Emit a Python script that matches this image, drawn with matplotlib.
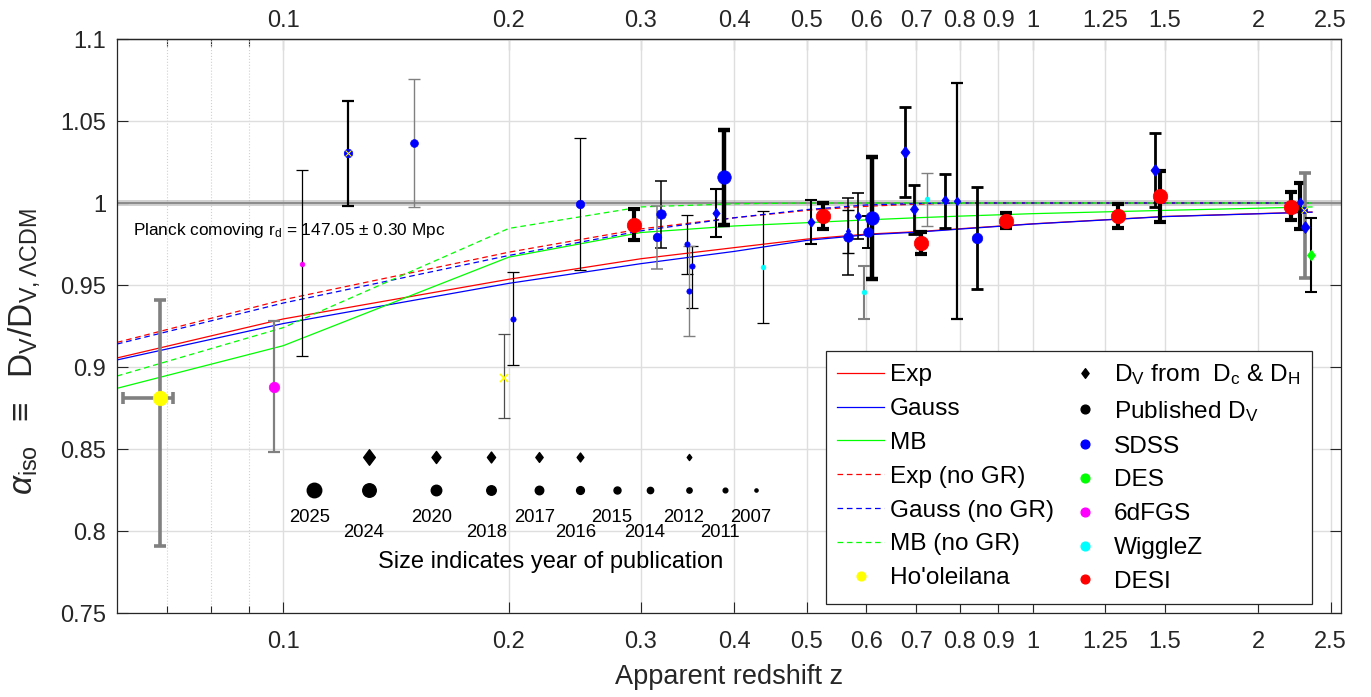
import numpy as np
import matplotlib
matplotlib.use('Agg')
import matplotlib.pyplot as plt
from matplotlib.lines import Line2D
from matplotlib.path import Path

plt.rcParams['font.family'] = ['Liberation Sans', 'DejaVu Sans']
plt.rcParams['mathtext.fontset'] = 'custom'
plt.rcParams['mathtext.rm'] = 'Liberation Sans'
plt.rcParams['mathtext.it'] = 'Liberation Sans:italic'
plt.rcParams['mathtext.bf'] = 'Liberation Sans:bold'
plt.rcParams['mathtext.fallback'] = 'stixsans'

# ---------------- model curves ----------------
model_z = [0.06, 0.1, 0.2, 0.3, 0.4, 0.5, 0.6, 0.7, 0.8, 1.0, 1.5, 2.36]
exp_gr = [0.9055, 0.9293, 0.9535, 0.966, 0.9728, 0.978, 0.981, 0.9825, 0.9843, 0.9873, 0.9918, 0.9945]
gauss_gr = [0.9043, 0.9265, 0.951, 0.963, 0.9705, 0.9772, 0.9806, 0.9822, 0.9841, 0.9872, 0.9917, 0.9944]
mb_gr = [0.887, 0.913, 0.967, 0.982, 0.986, 0.988, 0.9897, 0.991, 0.992, 0.9935, 0.9955, 0.9976]
exp_nogr = [0.915, 0.941, 0.970, 0.9842, 0.991, 0.9955, 0.998, 0.9993, 1.0, 1.0, 1.0, 1.0]
gauss_nogr = [0.914, 0.939, 0.968, 0.983, 0.991, 0.996, 0.9988, 0.9997, 1.0, 1.0, 1.0, 1.0]
mb_nogr = [0.8945, 0.924, 0.9845, 0.9976, 0.9995, 1.0, 1.0, 1.0, 1.0, 1.0, 1.0, 1.0]

# ---------------- measurements ----------------
pt_z = [0.0684, 0.0973, 0.106, 0.1221, 0.1495, 0.197, 0.2027, 0.249, 0.294, 0.319,
        0.3155, 0.346, 0.351, 0.348, 0.378, 0.387, 0.4365, 0.506, 0.526, 0.567,
        0.567, 0.584, 0.6026, 0.61, 0.595, 0.675, 0.694, 0.7096, 0.722, 0.763,
        0.792, 0.842, 0.923, 1.302, 1.459, 1.481, 2.215, 2.277, 2.30, 2.312, 2.355]
pt_alpha = [0.881, 0.888, 0.963, 1.0305, 1.0366, 0.893, 0.929, 0.9994, 0.9866, 0.9933,
            0.9793, 0.975, 0.9616, 0.9463, 0.9939, 1.0159, 0.961, 0.9884, 0.992, 0.983,
            0.979, 0.992, 0.9823, 0.9909, 0.9457, 1.0311, 0.9963, 0.9756, 1.0024, 1.0018,
            1.0012, 0.9787, 0.989, 0.992, 1.0201, 1.0043, 0.9976, 1.0006, 0.996, 0.9854, 0.9683]
pt_top = [0.941, 0.928, 1.020, 1.062, 1.0756, 0.920, 0.958, 1.0396, 0.9963, 1.0134,
          0.998, 0.9927, 0.974, 0.9738, 1.0085, 1.0445, 0.995, 1.0018, 1.0, 0.996,
          1.003, 1.006, 0.992, 1.028, 0.9616, 1.0585, 1.011, 0.9823, 1.0183, 1.0177,
          1.0732, 1.0098, 0.9939, 0.9994, 1.0427, 1.0195, 1.0067, 1.0122, 0.996, 1.0183, 0.9909]
pt_bottom = [0.791, 0.848, 0.907, 0.998, 0.9976, 0.869, 0.901, 0.959, 0.9774, 0.9726,
             0.9598, 0.957, 0.936, 0.919, 0.9793, 0.9866, 0.9268, 0.975, 0.984, 0.9695,
             0.956, 0.978, 0.9725, 0.9537, 0.9293, 1.0037, 0.981, 0.9689, 0.986, 0.9848,
             0.9293, 0.9476, 0.9848, 0.9848, 0.9976, 0.9884, 0.9896, 0.9841, 0.996, 0.9543, 0.9457]
pt_survey = ["Ho'oleilana", '6dFGS', '6dFGS', 'SDSS', 'SDSS', 'other', 'SDSS', 'SDSS', 'DESI', 'SDSS',
             'SDSS', 'SDSS', 'SDSS', 'SDSS', 'SDSS', 'SDSS', 'WiggleZ', 'SDSS', 'DESI', 'SDSS',
             'SDSS', 'SDSS', 'SDSS', 'SDSS', 'WiggleZ', 'SDSS', 'SDSS', 'DESI', 'WiggleZ', 'SDSS',
             'SDSS', 'SDSS', 'DESI', 'DESI', 'SDSS', 'DESI', 'DESI', 'SDSS', 'SDSS', 'SDSS', 'DES']
pt_kind = ['DV', 'DV', 'DV', 'DV', 'DV', 'x', 'DV', 'DV', 'DV', 'DV',
           'DV', 'DV', 'DV', 'DV', 'DcDH', 'DV', 'DV', 'DcDH', 'DV', 'DcDH',
           'DV', 'DcDH', 'DV', 'DV', 'DV', 'DcDH', 'DcDH', 'DV', 'DV', 'DcDH',
           'DcDH', 'DV', 'DV', 'DV', 'DcDH', 'DV', 'DV', 'DcDH', 'DV', 'DcDH', 'DcDH']
pt_year = [2025, 2020, 2011, 2017, 2016, 2017, 2012, 2017, 2025, 2018,
           2017, 2012, 2012, 2012, 2017, 2024, 2011, 2017, 2025, 2012,
           2018, 2016, 2018, 2024, 2011, 2020, 2018, 2025, 2011, 2017,
           2016, 2020, 2025, 2025, 2020, 2025, 2025, 2016, 2014, 2020, 2018]
pt_cross = [3, 38]  # points overlaid with a yellow cross
# Ho'oleilana horizontal error
hool_zlo, hool_zhi = 0.0612, 0.0713

# ---------------- styles (errorbar colour / width per point) ----------------
err_col = ['g', 'g', 'k', 'k', 'g', 'd', 'k', 'k', 'k', 'k',
           'g', 'k', 'k', 'g', 'k', 'k', 'k', 'k', 'k', 'k',
           'k', 'k', 'k', 'k', 'g', 'k', 'k', 'k', 'g', 'k',
           'k', 'k', 'k', 'k', 'k', 'k', 'k', 'k', 'k', 'g', 'k']
err_lw = [2.6, 1.6, 0.9, 1.6, 1.0, 0.9, 0.9, 0.9, 3.0, 1.1,
          1.1, 0.9, 0.9, 1.0, 1.5, 3.2, 0.9, 1.5, 3.0, 1.0,
          1.1, 1.2, 1.4, 3.2, 1.5, 2.0, 2.0, 3.0, 1.0, 2.0,
          1.6, 2.0, 3.0, 3.0, 2.0, 3.0, 3.0, 3.0, 0.0, 2.6, 1.5]

survey_color = {"Ho'oleilana": (1, 1, 0), 'SDSS': (0, 0, 1), 'DES': (0, 1, 0),
                '6dFGS': (1, 0, 1), 'WiggleZ': (0, 1, 1), 'DESI': (1, 0, 0), 'other': (1, 1, 0)}
errc_map = {'k': 'black', 'g': (0.5, 0.5, 0.5), 'd': (0.3, 0.3, 0.3)}
year_px = {2025: 14.5, 2024: 13.5, 2020: 10.5, 2018: 9.5, 2017: 8.5, 2016: 7.8,
           2015: 7.0, 2014: 6.3, 2012: 5.3, 2011: 4.7, 2007: 3.2}

def msize(year, kind):
    s = year_px[year] / 1.389
    if kind == 'DcDH':
        s *= 1.15
    return s

diamond = Path([(0, 1), (0.75, 0), (0, -1), (-0.75, 0), (0, 1)],
               [Path.MOVETO, Path.LINETO, Path.LINETO, Path.LINETO, Path.CLOSEPOLY])

# ---------------- year-size legend ----------------
ylg_years = [2025, 2024, 2020, 2018, 2017, 2016, 2015, 2014, 2012, 2011, 2007]
ylg_z = [0.110, 0.130, 0.160, 0.1894, 0.2195, 0.249, 0.2788, 0.3086, 0.3478, 0.3885, 0.4272]
ylg_diamond_years = [2024, 2020, 2018, 2017, 2016, 2012]

W, H = 1371, 697
fig = plt.figure(figsize=(W / 100, H / 100), dpi=100)
L, R, T, B = 117, 1341, 39, 613
ax = fig.add_axes([L / W, 1 - B / H, (R - L) / W, (B - T) / H])
ax.set_xscale('log')
ax.set_xlim(0.06, 2.58)
ax.set_ylim(0.75, 1.1)

dark = (0.15, 0.15, 0.15)
ax.set_axisbelow(True)
majx = [0.1, 0.2, 0.3, 0.4, 0.5, 0.6, 0.7, 0.8, 0.9, 1, 1.25, 1.5, 2, 2.5]
majx_lab = ['0.1', '0.2', '0.3', '0.4', '0.5', '0.6', '0.7', '0.8', '0.9', '1', '1.25', '1.5', '2', '2.5']
minx = [0.07, 0.08, 0.09]
ax.set_xticks(majx)
ax.set_xticklabels(majx_lab)
ax.set_xticks(minx, minor=True)
ax.set_xticklabels([], minor=True)
yt = [0.75, 0.8, 0.85, 0.9, 0.95, 1.0, 1.05, 1.1]
ax.set_yticks(yt)
ax.set_yticklabels(['0.75', '0.8', '0.85', '0.9', '0.95', '1', '1.05', '1.1'])
ax.grid(True, which='major', color=(0.87, 0.87, 0.87), lw=1.0)
ax.grid(True, which='minor', axis='x', color=(0.82, 0.82, 0.82), lw=0.8, ls=':')
ax.tick_params(which='both', direction='in', top=False, right=True,
               labelsize=17, width=0.8, colors=dark)
ax.tick_params(which='major', length=8)
ax.tick_params(which='minor', length=5)
ax.tick_params(axis='x', pad=13)
ax.tick_params(axis='y', pad=8)
for sp in ax.spines.values():
    sp.set_color(dark)
    sp.set_linewidth(0.9)

# top axis
sec = ax.secondary_xaxis('top')
sec.set_xticks(majx)
sec.set_xticklabels(majx_lab)
sec.set_xticks(minx, minor=True)
sec.set_xticklabels([], minor=True)
sec.tick_params(which='both', direction='in', labelsize=17, width=0.8, colors=dark, pad=5)
sec.tick_params(which='major', length=8)
sec.tick_params(which='minor', length=5)
sec.spines['top'].set_color(dark)
sec.spines['top'].set_linewidth(0.9)

# Planck reference
ax.axhspan(0.998, 1.002, color=(0.6, 0.6, 0.6), alpha=0.45, lw=0, zorder=1.5)
ax.axhline(1.0, color=(0.55, 0.55, 0.55), lw=1.4, zorder=1.6)

# models
dash = (0, (4.5, 3))
ax.plot(model_z, exp_gr, color=(1, 0, 0), lw=0.9, zorder=2)
ax.plot(model_z, gauss_gr, color=(0, 0, 1), lw=0.9, zorder=2)
ax.plot(model_z, mb_gr, color=(0, 1, 0), lw=0.9, zorder=2)
ax.plot(model_z, exp_nogr, color=(1, 0, 0), lw=0.9, ls=dash, zorder=2)
ax.plot(model_z, gauss_nogr, color=(0, 0, 1), lw=0.9, ls=dash, zorder=2)
ax.plot(model_z, mb_nogr, color=(0, 1, 0), lw=0.9, ls=dash, zorder=2)

# error bars + markers
for i in range(len(pt_z)):
    z, a = pt_z[i], pt_alpha[i]
    lo, hi = a - pt_bottom[i], pt_top[i] - a
    if err_lw[i] > 0:
        xerr = None
        if i == 0:
            xerr = [[z - hool_zlo], [hool_zhi - z]]
        ax.errorbar([z], [a], yerr=[[lo], [hi]], xerr=xerr, fmt='none',
                    ecolor=errc_map[err_col[i]], elinewidth=err_lw[i],
                    capsize=4.0, capthick=err_lw[i], zorder=3)
    kind = pt_kind[i]
    if kind == 'x':
        ax.plot([z], [a], marker='x', ls='none', color=(1, 1, 0), ms=6, mew=1.2, zorder=5)
        continue
    mk = diamond if kind == 'DcDH' else 'o'
    c = survey_color[pt_survey[i]]
    ax.plot([z], [a], marker=mk, ls='none', mfc=c, mec=c, mew=0.5,
            ms=msize(pt_year[i], kind), zorder=4)
for i in pt_cross:
    ax.plot([pt_z[i]], [pt_alpha[i]], marker='x', ls='none', color=(1, 1, 0),
            ms=4, mew=0.7, zorder=5)

# year-size legend
for j, (yr, zz) in enumerate(zip(ylg_years, ylg_z)):
    ax.plot([zz], [0.825], marker='o', ls='none', color='k', ms=msize(yr, 'DV'), zorder=4)
    if yr in ylg_diamond_years:
        ax.plot([zz], [0.845], marker=diamond, ls='none', color='k',
                ms=msize(yr, 'DcDH'), zorder=4)
    ty = 0.8085 if j % 2 == 0 else 0.7988
    ax.text(zz * 0.985, ty, str(yr), ha='center', va='center', fontsize=13.3, color='k')
ax.text(0.2277, 0.781, 'Size indicates year of publication', ha='center', va='center',
        fontsize=17)

ax.text(0.0631, 0.9835, r'Planck comoving r$_\mathrm{d}$ = 147.05 $\pm$ 0.30 Mpc',
        ha='left', va='center', fontsize=12.4)

# labels
ax.set_xlabel('Apparent redshift z', fontsize=19.5, labelpad=8, color=dark)
ax.set_ylabel(r'$\alpha_\mathrm{iso}\ \ \equiv\ \ \mathrm{D_V/D_{V,\Lambda CDM}}$', fontsize=24,
              color=dark)
ax.yaxis.set_label_coords(-0.061, 0.455)

# legend
lms = 6.3
handles = [
    Line2D([], [], color=(1, 0, 0), lw=0.9),
    Line2D([], [], color=(0, 0, 1), lw=0.9),
    Line2D([], [], color=(0, 1, 0), lw=0.9),
    Line2D([], [], color=(1, 0, 0), lw=0.9, ls=dash),
    Line2D([], [], color=(0, 0, 1), lw=0.9, ls=dash),
    Line2D([], [], color=(0, 1, 0), lw=0.9, ls=dash),
    Line2D([], [], color=(1, 1, 0), marker='o', ls='none', ms=lms),
    Line2D([], [], color='k', marker=diamond, ls='none', ms=lms * 1.1),
    Line2D([], [], color='k', marker='o', ls='none', ms=lms),
    Line2D([], [], color=(0, 0, 1), marker='o', ls='none', ms=lms),
    Line2D([], [], color=(0, 1, 0), marker='o', ls='none', ms=lms),
    Line2D([], [], color=(1, 0, 1), marker='o', ls='none', ms=lms),
    Line2D([], [], color=(0, 1, 1), marker='o', ls='none', ms=lms),
    Line2D([], [], color=(1, 0, 0), marker='o', ls='none', ms=lms),
]
labels = ['Exp', 'Gauss', 'MB', 'Exp (no GR)', 'Gauss (no GR)', 'MB (no GR)', "Ho'oleilana",
          r'D$_\mathrm{V}$ from  D$_\mathrm{c}$ & D$_\mathrm{H}$', r'Published D$_\mathrm{V}$',
          'SDSS', 'DES', '6dFGS', 'WiggleZ', 'DESI']
leg = ax.legend(handles, labels, ncol=2, loc='upper left', bbox_to_anchor=(0.579, 0.456),
                fontsize=17.6, frameon=True, fancybox=False, framealpha=1,
                edgecolor=dark, handlelength=1.95, handletextpad=0.22,
                columnspacing=0.3, labelspacing=0.48, borderpad=0.45, borderaxespad=0)
leg.get_frame().set_linewidth(0.9)
leg.set_zorder(10)

fig.savefig('out.png', dpi=100)
